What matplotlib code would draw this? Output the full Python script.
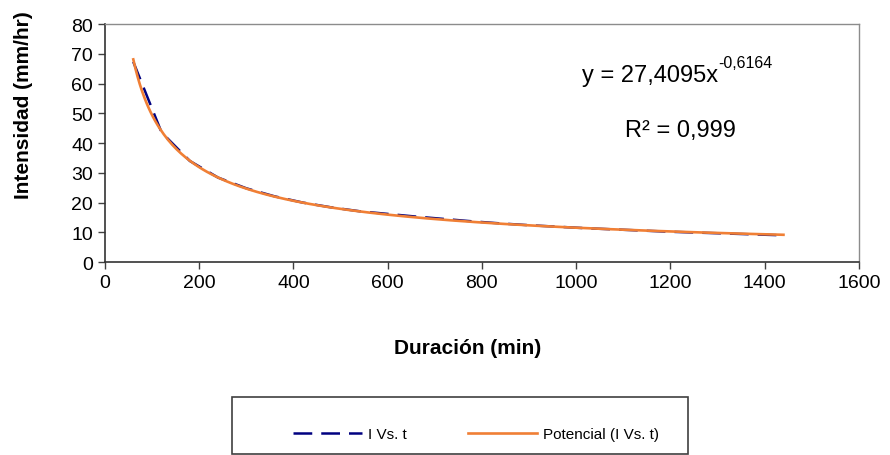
import numpy as np
import matplotlib
matplotlib.use("Agg")
import matplotlib.pyplot as plt
from matplotlib.patches import Rectangle

plt.rcParams['font.family'] = ['Liberation Sans', 'DejaVu Sans']

# duracion (min) vs intensidad (mm/hr)
duracion = [60, 120, 180, 240, 300, 360, 420, 480, 540, 600, 660, 720,
            780, 840, 900, 960, 1020, 1080, 1140, 1200, 1260, 1320, 1380, 1440]
intensidad = [67.3, 43.6, 34.0, 28.4, 24.8, 22.1, 20.0, 18.4, 17.1, 16.2, 15.3, 14.5,
              13.7, 13.0, 12.4, 11.9, 11.4, 11.0, 10.6, 10.2, 9.9, 9.6, 9.3, 9.0]
ecuacion = 'y = 27,4095x'
exponente = '-0,6164'
r2_texto = 'R² = 0,999'

x = np.array(duracion, dtype=float)
y = np.array(intensidad)

# linea de tendencia potencial (ajuste log-log)
b, a = np.polyfit(np.log(x), np.log(y), 1)
xt = np.linspace(x.min(), x.max(), 300)
yt = np.exp(a) * xt ** b

fig = plt.figure(figsize=(8.9, 4.56), dpi=100)
ax = fig.add_axes([0.118, 0.423, 0.847, 0.522])

l1, = ax.plot(x, y, color='#000080', lw=1.8, dashes=(7.5, 3.6), label='I Vs. t')
l2, = ax.plot(xt, yt, color='#F07F35', lw=1.9, label='Potencial (I Vs. t)')

ax.set_xlim(0, 1600)
ax.set_ylim(0, 80)
ax.set_xticks(np.arange(0, 1601, 200))
ax.set_yticks(np.arange(0, 81, 10))
ax.tick_params(labelsize=14, direction='out', length=5, width=1, color='#404040')
for s in ['top', 'right']:
    ax.spines[s].set_color('#8c8c8c')
    ax.spines[s].set_linewidth(1.0)
for s in ['left', 'bottom']:
    ax.spines[s].set_color('#333333')
    ax.spines[s].set_linewidth(1.2)

t = ax.text(1012, 63, ecuacion, fontsize=17, ha='left', va='center')
ax.annotate(exponente, xy=(1.0, 0.72), xycoords=t, fontsize=11.5,
            ha='left', va='bottom')
ax.text(1222, 44.3, r2_texto, fontsize=17, ha='center', va='center')

fig.text(0.525, 0.235, 'Duración (min)', fontsize=15, fontweight='bold',
         ha='center', va='center')
fig.text(0.026, 0.770, 'Intensidad (mm/hr)', fontsize=15, fontweight='bold',
         ha='center', va='center', rotation=90)

fig.patches.append(Rectangle((0.261, 0.002), 0.512, 0.125, transform=fig.transFigure,
                             fill=False, edgecolor='#404040', lw=1.2))
fig.legend(handles=[l1, l2], loc='center', bbox_to_anchor=(0.535, 0.046), ncol=2,
           frameon=False, fontsize=11, handlelength=4.5, columnspacing=4.0,
           handletextpad=0.4)

fig.savefig('out.png', dpi=100)
